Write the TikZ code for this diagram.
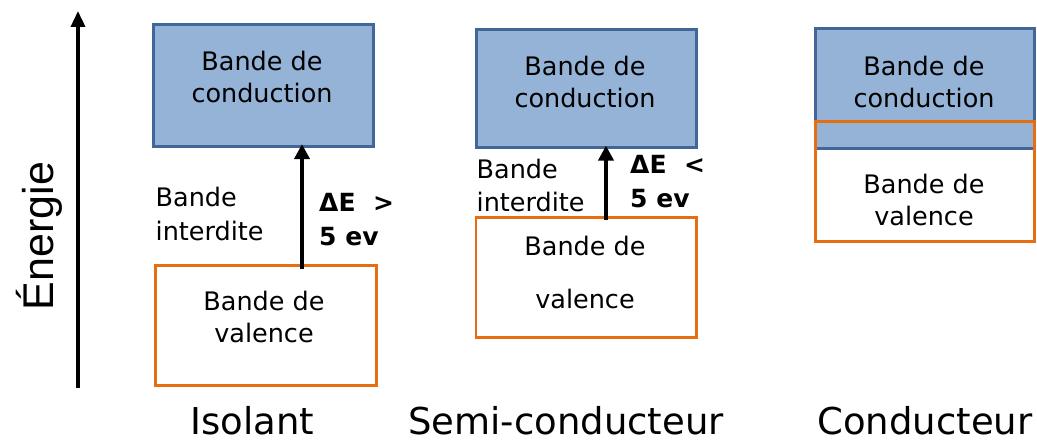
\documentclass[tikz,border=0pt]{standalone}
\usepackage{fontspec}
\setmainfont{DejaVu Sans}
\newfontfamily\arialf{Liberation Sans}
\usetikzlibrary{arrows.meta}
\definecolor{bandblue}{RGB}{149,179,215}
\definecolor{bandborder}{RGB}{66,102,152}
\definecolor{bandorange}{RGB}{230,110,16}
\begin{document}
\begin{tikzpicture}[x=1pt,y=-1pt,
  cband/.style={draw=bandborder, fill=bandblue, line width=2.6pt, inner sep=0pt, anchor=north west},
  vband/.style={draw=bandorange, line width=2.6pt, inner sep=0pt, anchor=north west},
  bandtxt/.style={inner sep=0pt, anchor=north, align=center, font=\fontsize{25.5}{32}\selectfont},
  gaptxt/.style={inner sep=0pt, anchor=north west, align=left, font=\fontsize{25.5}{33.5}\selectfont},
  detxt/.style={inner sep=0pt, anchor=north west, align=left, font=\fontsize{25}{34}\selectfont\bfseries},
  captxt/.style={inner sep=0pt, anchor=base, font=\fontsize{37}{44}\selectfont},
  garrow/.style={line width=4.5pt, -{Triangle[width=15pt,length=15pt]}, shorten >=-3.5pt},
  axarrow/.style={line width=3.5pt, -{Triangle[width=14pt,length=16pt]}}
]
\path[use as bounding box] (0,0) rectangle (1037,441);

% energy axis
\coordinate (ab) at (78,388);
\coordinate (at) at (78,11);
\draw[axarrow] (ab) -- (at);
\node[inner sep=0pt, anchor=base, rotate=90, font=\arialf\fontsize{43}{50}\selectfont] (en) at (53,236) {Énergie};

% Isolant
\node[cband, minimum width=220pt, minimum height=122pt] (ic) at (152,23) {};
\node[vband, minimum width=221pt, minimum height=120pt] (iv) at (154,264) {};
\node[bandtxt] (ict) at (262,51.3) {Bande de\\conduction};
\node[bandtxt] (ivt) at (264,290.6) {Bande de\\valence};
\node[gaptxt] (igt) at (155.5,187.3) {Bande\\interdite};
\coordinate (ia) at (302,269);
\draw[garrow] (ia) -- (ic.south -| ia);
\node[detxt] (idt) at (319,192.8) {ΔE\hspace{0.7em}>\\5 ev};
\node[captxt] (il) at (252.5,434.5) {Isolant};

% Semi-conducteur
\node[cband, minimum width=220pt, minimum height=118.5pt] (sc) at (475,28) {};
\node[vband, minimum width=220.5pt, minimum height=120pt] (sv) at (474.5,216) {};
\node[bandtxt] (sct) at (585,55.6) {Bande de\\conduction};
\node[bandtxt] (svt) at (585,235.6) {Bande de\\[21pt]valence};
\node[gaptxt] (sgt) at (476.5,158.6) {Bande\\interdite};
\coordinate (sa) at (606,220);
\draw[garrow] (sa) -- (sc.south -| sa);
\node[detxt] (sdt) at (630,154.8) {ΔE\hspace{0.7em}<\\5 ev};
\node[captxt] (sl) at (566,434.5) {Semi-conducteur};

% Conducteur
\node[cband, minimum width=219pt, minimum height=120pt] (cc) at (814,27) {};
\node[vband, minimum width=219pt, minimum height=120pt] (cv) at (814,120) {};
\node[bandtxt] (cct) at (924,55.6) {Bande de\\conduction};
\node[bandtxt] (cvt) at (924,173.6) {Bande de\\valence};
\node[captxt] (cl) at (925,434.5) {Conducteur};
\end{tikzpicture}
\end{document}
